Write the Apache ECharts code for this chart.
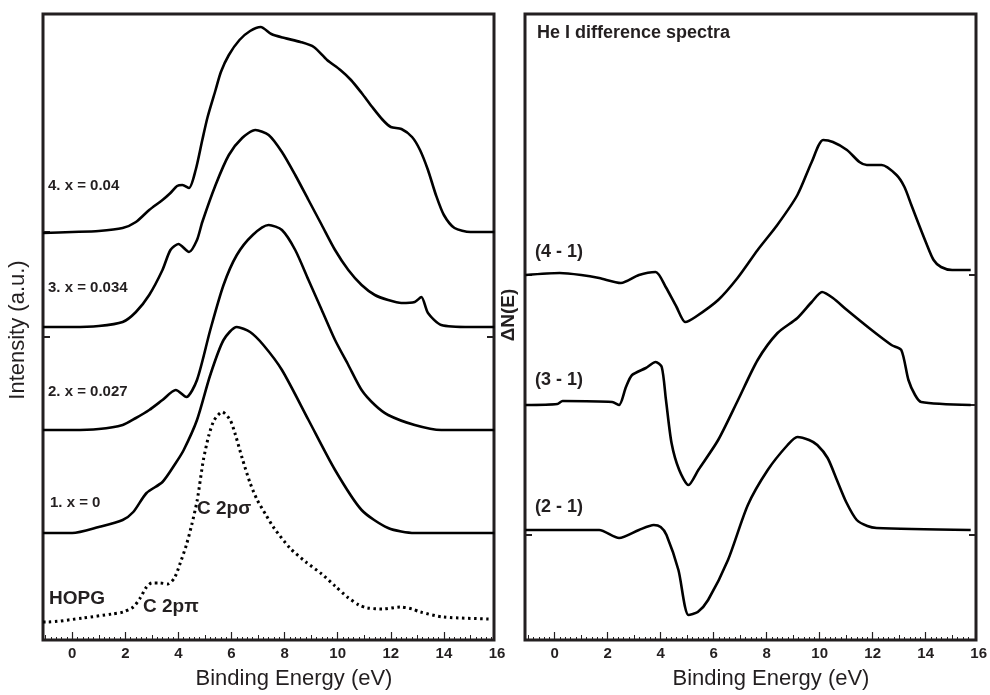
<!DOCTYPE html>
<html><head><meta charset="utf-8">
<script src="https://cdn.jsdelivr.net/npm/echarts@6/dist/echarts.min.js"></script>
<style>html,body{margin:0;padding:0;background:#fff}#c{width:990px;height:695px}</style>
</head><body><div id="c"></div>
<script>
// ---- data: [binding energy (eV), intensity (offset, a.u.)] ----
const curveX004 = [[-1.1,4.07],[0,4.08],[1,4.09],[1.9,4.12],[2.4,4.18],[2.9,4.30],[3.4,4.40],[3.7,4.47],[3.95,4.54],[4.15,4.55],[4.4,4.52],[4.65,4.70],[4.9,5.00],[5.1,5.23],[5.4,5.50],[5.6,5.68],[5.9,5.85],[6.3,6.00],[6.7,6.09],[7.1,6.13],[7.5,6.06],[8.0,6.02],[8.6,5.98],[9.1,5.93],[9.6,5.80],[10.1,5.70],[10.5,5.60],[10.9,5.47],[11.3,5.33],[11.7,5.20],[12.0,5.13],[12.4,5.11],[12.8,5.03],[13.1,4.90],[13.4,4.70],[13.7,4.45],[14.0,4.25],[14.4,4.12],[15,4.08],[15.9,4.08]];
const curveX0034 = [[-1.1,3.13],[0,3.13],[1,3.14],[1.9,3.18],[2.4,3.28],[2.9,3.45],[3.4,3.70],[3.7,3.90],[4.0,3.96],[4.4,3.88],[4.7,4.00],[4.9,4.18],[5.4,4.55],[5.9,4.85],[6.4,5.02],[6.9,5.10],[7.4,5.05],[7.9,4.88],[8.4,4.65],[8.9,4.40],[9.4,4.15],[9.9,3.90],[10.4,3.70],[10.9,3.55],[11.4,3.45],[11.9,3.40],[12.4,3.37],[12.9,3.38],[13.15,3.43],[13.4,3.27],[13.9,3.15],[15,3.13],[15.9,3.13]];
const curveX0027 = [[-1.1,2.10],[0,2.10],[1,2.11],[1.9,2.15],[2.4,2.22],[2.9,2.30],[3.4,2.40],[3.9,2.50],[4.3,2.43],[4.7,2.60],[5.2,3.10],[5.7,3.55],[6.2,3.85],[6.8,4.05],[7.4,4.15],[7.9,4.10],[8.4,3.90],[8.9,3.60],[9.4,3.30],[9.9,3.00],[10.4,2.75],[10.9,2.50],[11.4,2.35],[11.9,2.25],[12.9,2.15],[13.9,2.10],[15.9,2.10]];
const curveX0 = [[-1.1,1.07],[0,1.07],[1,1.13],[1.9,1.20],[2.3,1.28],[2.8,1.47],[3.4,1.58],[3.9,1.77],[4.2,1.90],[4.7,2.20],[5.2,2.65],[5.7,3.00],[6.2,3.13],[6.7,3.08],[7.2,2.95],[7.9,2.70],[8.9,2.20],[9.9,1.70],[10.9,1.30],[11.9,1.12],[12.9,1.07],[15.9,1.07]];
const curveHOPG = [[-1.1,0.18],[-0.94,0.18],[0.41,0.22],[1.5,0.26],[1.92,0.28],[2.3,0.33],[2.56,0.42],[2.8,0.53],[3.0,0.57],[3.3,0.57],[3.6,0.56],[3.85,0.62],[4.07,0.77],[4.3,0.95],[4.5,1.15],[4.71,1.40],[4.94,1.80],[5.15,2.05],[5.35,2.20],[5.65,2.28],[5.95,2.20],[6.15,2.05],[6.4,1.82],[6.7,1.57],[6.97,1.40],[7.3,1.25],[7.6,1.12],[8.2,0.92],[8.8,0.78],[9.4,0.66],[9.9,0.54],[10.36,0.43],[10.8,0.35],[11.12,0.32],[11.7,0.31],[12.36,0.33],[12.8,0.31],[13.11,0.28],[13.98,0.23],[15.75,0.21]];

const diff41 = [[-1.1,3.65],[0.19,3.67],[1.0,3.65],[1.68,3.62],[2.50,3.57],[3.18,3.65],[3.81,3.68],[4.19,3.53],[4.6,3.33],[4.93,3.18],[5.31,3.23],[6.17,3.40],[6.9,3.62],[7.66,3.90],[8.4,4.15],[9.16,4.45],[9.7,4.78],[10.13,5.00],[10.5,4.98],[11.03,4.90],[11.5,4.78],[11.78,4.75],[12.34,4.75],[12.90,4.65],[13.2,4.53],[13.46,4.35],[13.75,4.15],[14.02,3.97],[14.3,3.80],[14.58,3.73],[15.0,3.70],[15.70,3.70]];
const diff31 = [[-1.1,2.35],[0.1,2.36],[0.3,2.39],[2.17,2.38],[2.43,2.35],[2.69,2.53],[2.92,2.65],[3.44,2.72],[3.81,2.78],[4.04,2.73],[4.2,2.40],[4.41,1.97],[4.7,1.70],[5.05,1.55],[5.42,1.70],[6.17,2.00],[6.92,2.40],[7.66,2.80],[8.41,3.07],[9.16,3.22],[9.7,3.38],[10.09,3.48],[10.5,3.42],[11.03,3.30],[11.96,3.10],[12.71,2.95],[13.08,2.90],[13.35,2.60],[13.6,2.45],[13.83,2.38],[15.70,2.35]];
const diff21 = [[-1.1,1.10],[1.68,1.10],[2.43,1.02],[3.18,1.10],[3.74,1.15],[4.0,1.13],[4.22,1.05],[4.67,0.70],[5.05,0.25],[5.4,0.28],[5.79,0.40],[6.54,0.80],[7.29,1.35],[8.04,1.70],[8.79,1.95],[9.16,2.03],[9.6,2.00],[9.91,1.95],[10.3,1.82],[10.65,1.60],[11.0,1.38],[11.40,1.20],[11.8,1.14],[12.15,1.12],[15.70,1.10]];

const xTickLabels = [0,2,4,6,8,10,12,14,16];
const leftYTicks = [1.07,2.1,3.03,4.08];
const rightYTicks = [1.05,2.35,3.65];
const leftLabels = ['4. x = 0.04','3. x = 0.034','2. x = 0.027','1. x = 0'];
const rightLabels = ['(4 - 1)','(3 - 1)','(2 - 1)'];

const INK = '#231f20';
const FONT = '"Liberation Sans", Arial, Helvetica, sans-serif';

function range(a, b, s) { const r = []; for (let v = a; v <= b + 1e-9; v += s) r.push(+v.toFixed(2)); return r; }

const chart = echarts.init(document.getElementById('c'), null, {renderer: 'canvas'});

const grids = [
  {left: 43, top: 14, width: 451, height: 626, show: true, borderColor: INK, borderWidth: 3, backgroundColor: 'transparent'},
  {left: 525, top: 14, width: 451, height: 626, show: true, borderColor: INK, borderWidth: 3, backgroundColor: 'transparent'},
  {left: 43, top: 14, width: 454, height: 626},
  {left: 525, top: 14, width: 458, height: 626}
];

const xAxes = [];
const yAxes = [];
[0,1].forEach(g => {
  xAxes.push({gridIndex: g, type: 'value', min: 0, max: 1, show: false});
});
function dataX(g, min, maxTick) {
  const base = {gridIndex: g, type: 'value', min: min, max: 16, position: 'bottom', axisLine: {show: false}, splitLine: {show: false}};
  xAxes.push(Object.assign({}, base, {axisTick: {show: true, inside: true, length: 3, lineStyle: {color: INK, width: 1}, customValues: range(-1, maxTick, 0.2)}, axisLabel: {show: false}}));
  xAxes.push(Object.assign({}, base, {axisTick: {show: true, inside: true, length: 5, lineStyle: {color: INK, width: 1}, customValues: range(-1, Math.floor(maxTick), 1)}, axisLabel: {show: false}}));
  xAxes.push(Object.assign({}, base, {axisTick: {show: true, inside: true, length: 8, lineStyle: {color: INK, width: 1.2}, customValues: xTickLabels.filter(v => v <= maxTick)},
    axisLabel: {show: true, customValues: xTickLabels, formatter: v => String(v), color: INK, fontFamily: FONT, fontWeight: 'bold', fontSize: 15, margin: 6}}));
}
dataX(2, -1.1, 15.8);
dataX(3, -1.12, 15.6);

function frameY(g, ticks) {
  const b = {gridIndex: g, type: 'value', min: 0, max: 6.26, axisLine: {show: false}, splitLine: {show: false}, axisLabel: {show: false},
    axisTick: {show: true, inside: true, length: 7, lineStyle: {color: INK, width: 2}, customValues: ticks}};
  yAxes.push(Object.assign({}, b, {position: 'left'}));
  yAxes.push(Object.assign({}, b, {position: 'right'}));
}
frameY(0, leftYTicks);
frameY(1, rightYTicks);
yAxes.push({gridIndex: 2, type: 'value', min: 0, max: 6.26, show: false});
yAxes.push({gridIndex: 3, type: 'value', min: 0, max: 6.26, show: false});

function line(data, xi, yi, dotted) {
  return {type: 'line', data: data, xAxisIndex: xi, yAxisIndex: yi, showSymbol: false, symbol: 'none', smooth: 0.25, animation: false,
    lineStyle: {color: '#000', width: dotted ? 3 : 2.6, type: dotted ? [2.5, 3.5] : 'solid', cap: 'butt', join: 'round'}, z: 3};
}

const series = [
  line(curveX004, 4, 4), line(curveX0034, 4, 4), line(curveX0027, 4, 4), line(curveX0, 4, 4), line(curveHOPG, 4, 4, true),
  line(diff41, 7, 5), line(diff31, 7, 5), line(diff21, 7, 5)
];

function txt(t, x, y, size, weight, align, rot) {
  return {type: 'text', x: x, y: y, rotation: rot || 0, z: 10,
    style: {text: t, fill: INK, font: (weight || 'bold') + ' ' + size + 'px ' + FONT, textAlign: align || 'left', textVerticalAlign: 'middle'}};
}

const graphic = [
  txt(leftLabels[0], 48, 186, 15),
  txt(leftLabels[1], 48, 288, 15),
  txt(leftLabels[2], 48, 392, 15),
  txt(leftLabels[3], 50, 503, 15),
  txt('HOPG', 49, 599, 19),
  txt('C 2pσ', 197, 509, 19),
  txt('C 2pπ', 143, 607, 19),
  txt('He I difference spectra', 537, 33, 18),
  txt(rightLabels[0], 535, 252, 18),
  txt(rightLabels[1], 535, 380, 18),
  txt(rightLabels[2], 535, 507, 18),
  txt('Intensity (a.u.)', 18, 330, 22, 'normal', 'center', Math.PI / 2),
  txt('ΔN(E)', 509, 315, 19, 'bold', 'center', Math.PI / 2),
  txt('Binding Energy (eV)', 294, 679, 22, 'normal', 'center'),
  txt('Binding Energy (eV)', 771, 679, 22, 'normal', 'center')
];

chart.setOption({animation: false, backgroundColor: '#fff', grid: grids, xAxis: xAxes, yAxis: yAxes, series: series, graphic: graphic});
</script></body></html>
